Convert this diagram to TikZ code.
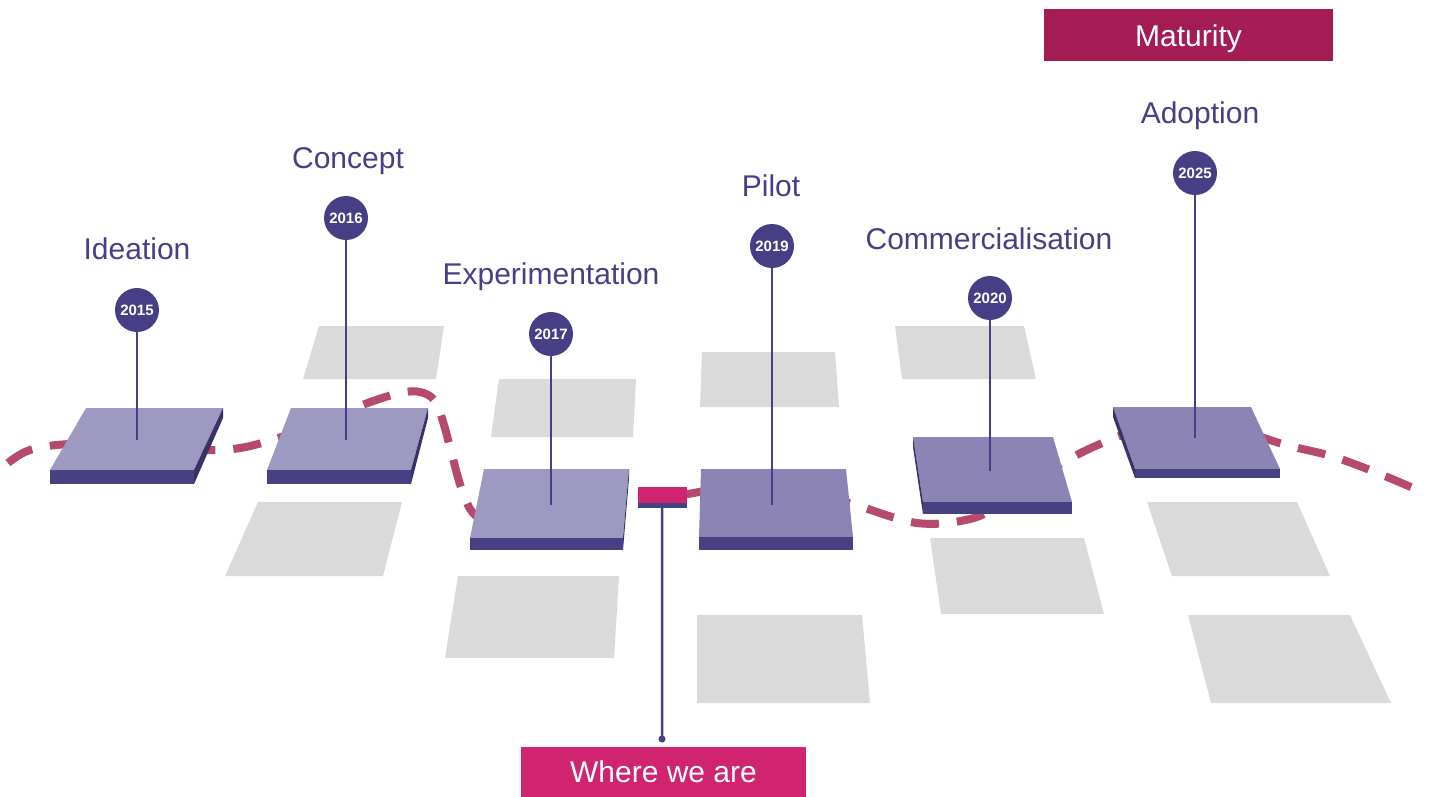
\documentclass[tikz,border=0pt]{standalone}
\usepackage{fontspec}
\setmainfont{Liberation Sans}
\definecolor{ink}{RGB}{70,63,134}
\definecolor{toplight}{RGB}{158,153,193}
\definecolor{topdark}{RGB}{140,132,180}
\definecolor{front}{RGB}{71,64,130}
\definecolor{side}{RGB}{56,50,105}
\definecolor{tile}{RGB}{218,218,218}
\definecolor{trail}{RGB}{181,73,112}
\definecolor{maturity}{RGB}{163,28,84}
\definecolor{nowpink}{RGB}{208,36,112}

\begin{document}
\begin{tikzpicture}[x=1pt,y=-1pt]

\tikzset{
  tilebox/.style = {fill=tile},
  topface/.style = {fill=#1},
  frontface/.style = {fill=front},
  sideface/.style = {fill=side},
  yearpin/.style = {circle, fill=ink, minimum size=44pt, inner sep=0pt,
    text=white, font=\fontsize{15}{18}\selectfont\bfseries},
  pinline/.style = {draw=ink, line width=2.5pt},
  stage/.style = {text=ink, font=\fontsize{30}{36}\selectfont, inner sep=0pt,
    text height=22pt, text depth=0pt},
  banner/.style = {fill=#1, text=white, font=\fontsize{30}{36}\selectfont,
    inner sep=0pt, text height=22pt, text depth=0pt},
  trailline/.style = {draw=trail, line width=8pt, dash pattern=on 28pt off 18pt}
}

\useasboundingbox (0,0) rectangle (1429,796);

\fill[tilebox] (258,502) -- (402,502) -- (383,576) -- (225,576) -- cycle;
\fill[tilebox] (319,326) -- (444,326) -- (436,379) -- (303,379) -- cycle;
\fill[tilebox] (499,379) -- (636,379) -- (633,437) -- (491,437) -- cycle;
\fill[tilebox] (458,576) -- (619,576) -- (614,658) -- (445,658) -- cycle;
\fill[tilebox] (702,352) -- (835,352) -- (839,407) -- (700,407) -- cycle;
\fill[tilebox] (697,615) -- (862,615) -- (870,703) -- (697,703) -- cycle;
\fill[tilebox] (895,326) -- (1024,326) -- (1036,379) -- (902,379) -- cycle;
\fill[tilebox] (930,538) -- (1084,538) -- (1104,614) -- (941,614) -- cycle;
\fill[tilebox] (1147,502) -- (1297,502) -- (1330,576) -- (1172,576) -- cycle;
\fill[tilebox] (1188,615) -- (1350,615) -- (1391,703) -- (1211,703) -- cycle;

\draw[trailline] plot[smooth, tension=0.6] coordinates {
  (8,463) (30,450) (70,444) (140,444) (205,450) (240,448) (275,439)
  (320,423) (365,404) (400,393) (420,392) (435,401) (444,425) (452,455)
  (462,490) (475,515) (500,523) (560,518) (632,505) (688,494) (740,486)
  (790,488) (852,504) (917,523) (970,519) (1000,504) (1030,484) (1062,463)
  (1100,444) (1140,430) (1190,424) (1240,431) (1286,445) (1331,456)
  (1375,472) (1420,491)};

\fill[topface=toplight] (86,408) -- (223,408) -- (194,470) -- (50,470) -- cycle;
\fill[frontface] (50,470) rectangle (194,484);
\fill[sideface] (194,470) -- (223,408) -- (223,418) -- (194,484) -- cycle;

\fill[topface=toplight] (291,408) -- (428,408) -- (411,470) -- (267,470) -- cycle;
\fill[frontface] (267,470) rectangle (411,484);
\fill[sideface] (411,470) -- (428,408) -- (428,418) -- (411,484) -- cycle;

\fill[topface=toplight] (484,469) -- (629,469) -- (623,538) -- (470,538) -- cycle;
\fill[frontface] (470,538) rectangle (623,550);
\fill[sideface] (623,538) -- (629,469) -- (629,478) -- (623,550) -- cycle;

\fill[topface=topdark] (701,469) -- (846,469) -- (853,537) -- (699,537) -- cycle;
\fill[frontface] (699,537) rectangle (853,550);

\fill[topface=topdark] (913,437) -- (1053,437) -- (1072,502) -- (923,502) -- cycle;
\fill[frontface] (923,502) rectangle (1072,514);
\fill[sideface] (913,437) -- (923,502) -- (923,514) -- (913,447) -- cycle;

\fill[topface=topdark] (1113,407) -- (1251,407) -- (1280,469) -- (1135,469) -- cycle;
\fill[frontface] (1135,469) rectangle (1280,478);
\fill[sideface] (1113,407) -- (1135,469) -- (1135,478) -- (1113,417) -- cycle;

\node[fill=nowpink, minimum width=49pt, minimum height=21pt, inner sep=0pt,
  anchor=north west] (now) at (638,487) {};
\fill[frontface] (now.south west) rectangle ([yshift=5pt]now.south east);
\coordinate (dot) at (662,739);
\draw[pinline] ([xshift=-0.5pt, yshift=5pt]now.south) -- (dot);
\fill[ink] (dot) circle (3.5pt);
\node[banner=nowpink, minimum width=285pt, minimum height=50pt] (where)
  at (663.5,771.5) {Where we are};
\node[banner=maturity, minimum width=289pt, minimum height=52pt] (maturity)
  at (1188.5,35) {Maturity};

\node[yearpin] (y2015) at (137,310) {2015};
\node[yearpin] (y2016) at (346,218) {2016};
\node[yearpin] (y2017) at (551,334) {2017};
\node[yearpin] (y2019) at (772,246) {2019};
\node[yearpin] (y2020) at (990,298) {2020};
\node[yearpin] (y2025) at (1195,173) {2025};

\coordinate (b2015) at (137,440);
\coordinate (b2016) at (346,440);
\coordinate (b2017) at (551,505);
\coordinate (b2019) at (772,505);
\coordinate (b2020) at (990,471);
\coordinate (b2025) at (1195,438);

\draw[pinline] (y2015) -- (b2015);
\draw[pinline] (y2016) -- (b2016);
\draw[pinline] (y2017) -- (b2017);
\draw[pinline] (y2019) -- (b2019);
\draw[pinline] (y2020) -- (b2020);
\draw[pinline] (y2025) -- (b2025);

\node[stage] (ideation) at (137,248) {Ideation};
\node[stage] (concept) at (348,157) {Concept};
\node[stage] (experimentation) at (551,273) {Experimentation};
\node[stage] (pilot) at (771,185) {Pilot};
\node[stage] (commercialisation) at (989,238) {Commercialisation};
\node[stage] (adoption) at (1200,112) {Adoption};

\end{tikzpicture}
\end{document}
